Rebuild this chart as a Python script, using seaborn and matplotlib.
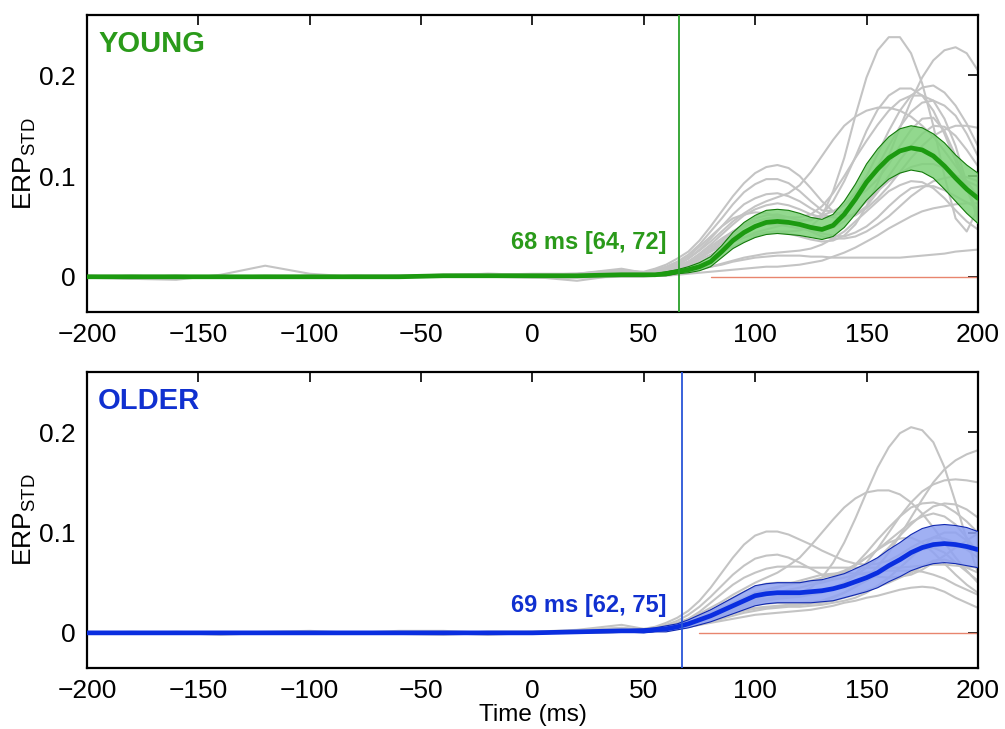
import numpy as np
import pandas as pd
import matplotlib
matplotlib.use("Agg")
import matplotlib.pyplot as plt
import seaborn as sns

# ---------------- data ----------------
time_ms = [-200, -180, -160, -140, -120, -100, -80, -60, -40, -20, 0, 20, 40,
           50, 55, 60, 65, 70, 75, 80, 85, 90, 95, 100, 105, 110, 115, 120, 125,
           130, 135, 140, 145, 150, 155, 160, 165, 170, 175, 180, 185, 190, 195, 200]

# YOUNG individual curves (ERP_STD)
young_s01 = [0.001, 0.000, -0.001, 0.000, 0.001, 0.000, 0.000, 0.001, 0.002, 0.003, 0.002, 0.002, 0.003,
             .004, .006, .008, .011, .015, .020, .025, .030, .035, .039, .042, .044, .045, .045, .046, .050,
             .060, .085, .118, .160, .198, .225, .238, .238, .222, .192, .150, .100, .058, .045, .068]
young_s02 = [0.000, -0.002, -0.003, 0.002, 0.011, 0.003, 0.000, 0.000, 0.001, 0.002, 0.001, 0.001, 0.002,
             .002, .003, .005, .007, .010, .015, .020, .025, .030, .035, .040, .044, .045, .043, .040, .037,
             .035, .036, .041, .052, .070, .093, .120, .148, .175, .198, .215, .225, .228, .222, .205]
young_s03 = [0.001, 0.001, 0.000, -0.001, 0.000, 0.001, 0.001, 0.000, 0.001, 0.003, 0.002, 0.003, 0.006,
             .005, .008, .012, .018, .025, .036, .050, .065, .080, .093, .103, .109, .111, .108, .100, .088,
             .075, .065, .060, .062, .070, .084, .100, .116, .130, .142, .150, .149, .140, .126, .110]
young_s04 = [-0.001, -0.002, 0.000, 0.000, -0.001, 0.000, 0.001, 0.001, 0.000, 0.002, 0.003, 0.003, 0.007,
             .004, .007, .010, .015, .022, .032, .045, .058, .072, .084, .092, .097, .097, .093, .085, .075,
             .066, .065, .071, .083, .100, .122, .145, .165, .180, .188, .190, .183, .170, .152, .130]
young_s05 = [0.000, 0.001, 0.000, 0.000, 0.000, 0.001, 0.000, 0.000, 0.001, 0.002, 0.002, 0.001, 0.004,
             .003, .005, .008, .012, .018, .026, .035, .045, .055, .063, .070, .075, .079, .083, .091, .104,
             .120, .136, .150, .159, .165, .168, .168, .165, .159, .150, .139, .125, .110, .095, .080]
young_s06 = [0.000, 0.000, 0.001, 0.000, -0.001, 0.000, 0.000, 0.001, 0.001, 0.001, 0.000, -0.004, 0.002,
             .002, .004, .006, .009, .014, .020, .028, .036, .045, .052, .058, .061, .062, .059, .056, .056,
             .062, .075, .095, .119, .145, .166, .180, .187, .187, .180, .165, .142, .115, .087, .060]
young_s07 = [0.001, 0.000, -0.001, -0.001, 0.000, 0.000, 0.001, 0.001, 0.002, 0.002, 0.001, 0.002, 0.005,
             .003, .005, .008, .012, .018, .027, .038, .050, .062, .072, .078, .082, .083, .080, .075, .068,
             .062, .059, .058, .061, .068, .078, .090, .104, .118, .130, .140, .146, .150, .150, .148]
young_s08 = [0.000, 0.000, 0.000, 0.001, 0.000, -0.001, 0.000, 0.000, 0.001, 0.001, 0.002, 0.002, 0.004,
             .002, .004, .006, .010, .015, .023, .032, .042, .052, .061, .067, .071, .073, .071, .067, .062,
             .059, .060, .066, .076, .091, .110, .130, .149, .164, .173, .175, .170, .160, .142, .120]
young_s09 = [0.000, 0.001, 0.001, 0.000, 0.000, 0.000, 0.000, 0.000, 0.000, 0.001, 0.001, 0.002, 0.003,
             .002, .003, .005, .008, .012, .018, .025, .033, .040, .046, .050, .052, .052, .050, .048, .046,
             .046, .049, .055, .064, .075, .085, .095, .103, .109, .112, .112, .108, .101, .095, .090]
young_s10 = [0.001, 0.000, 0.000, 0.000, 0.001, 0.001, 0.000, 0.000, 0.001, 0.002, 0.002, 0.002, 0.004,
             .003, .004, .006, .009, .012, .017, .022, .028, .034, .039, .044, .047, .050, .053, .055, .058,
             .061, .065, .071, .078, .086, .097, .112, .130, .146, .157, .158, .145, .120, .090, .063]
young_s11 = [0.000, 0.000, 0.000, 0.000, 0.000, 0.000, 0.000, 0.000, 0.000, 0.000, 0.000, 0.000, 0.001,
             .001, .002, .003, .004, .006, .008, .010, .012, .015, .017, .019, .020, .021, .021, .021, .020,
             .020, .019, .019, .019, .019, .019, .019, .019, .020, .021, .022, .023, .025, .026, .027]
young_s12 = [0.000, 0.000, 0.000, -0.001, 0.000, 0.000, 0.000, 0.000, 0.000, 0.001, 0.000, 0.000, 0.001,
             .001, .001, .002, .003, .005, .007, .010, .013, .016, .019, .021, .023, .024, .025, .026, .028,
             .032, .038, .045, .055, .065, .075, .085, .091, .095, .094, .088, .078, .066, .055, .047]
young_s13 = [0.000, 0.000, 0.000, 0.000, 0.000, 0.000, 0.000, 0.000, 0.000, 0.000, -0.001, -0.001, 0.000,
             .000, .001, .001, .002, .003, .004, .005, .006, .007, .008, .009, .010, .010, .011, .012, .014,
             .016, .020, .024, .029, .035, .041, .048, .054, .060, .065, .068, .070, .072, .073, .073]
young_s14 = [0.000, 0.000, 0.001, 0.000, 0.000, 0.000, 0.001, 0.001, 0.001, 0.002, 0.002, 0.003, 0.008,
             .004, .006, .009, .014, .020, .030, .040, .050, .058, .062, .064, .063, .060, .055, .050, .045,
             .040, .038, .038, .040, .045, .052, .060, .070, .080, .088, .095, .098, .100, .099, .095]
young_s15 = [0.000, 0.000, 0.000, 0.000, 0.000, 0.000, 0.000, 0.000, 0.001, 0.001, 0.001, 0.001, 0.003,
             .002, .003, .005, .008, .012, .019, .026, .034, .042, .049, .055, .058, .060, .059, .059, .062,
             .070, .083, .100, .118, .135, .151, .165, .175, .180, .180, .175, .157, .130, .093, .055]
young_s16 = [0.000, 0.000, 0.000, 0.000, 0.000, 0.000, 0.000, 0.000, 0.000, 0.001, 0.001, 0.002, 0.004,
             .003, .005, .007, .010, .015, .022, .030, .038, .045, .051, .055, .057, .058, .056, .052, .047,
             .043, .041, .040, .044, .050, .059, .070, .080, .088, .090, .090, .086, .080, .074, .068]

young_mean = [0.000, 0.000, 0.000, 0.000, 0.000, 0.000, 0.000, 0.000, 0.001, 0.001, 0.001, 0.001, 0.002,
              .002, .002, .003, .005, .007, .010, .015, .025, .036, .044, .050, .054, .055, .054, .052, .049,
              .047, .051, .062, .077, .094, .107, .118, .125, .128, .126, .120, .110, .098, .087, .078]
young_half = [0.001, 0.001, 0.001, 0.001, 0.001, 0.001, 0.001, 0.001, 0.001, 0.001, 0.001, 0.001, 0.001,
              .001, .001, .002, .002, .003, .004, .005, .006, .008, .010, .011, .012, .012, .012, .011, .010,
              .010, .011, .013, .015, .018, .020, .021, .022, .022, .022, .022, .023, .023, .024, .025]

# OLDER individual curves (ERP_STD)
older_s01 = [0.000, 0.000, 0.000, -0.001, 0.000, 0.001, 0.000, 0.000, 0.001, 0.000, 0.000, 0.001, 0.002,
             .002, .003, .005, .007, .010, .014, .018, .022, .025, .029, .032, .034, .036, .038, .040, .045,
             .055, .070, .090, .114, .140, .165, .185, .199, .205, .202, .190, .165, .130, .093, .060]
older_s02 = [0.000, 0.001, 0.000, 0.000, 0.000, 0.000, 0.000, 0.000, 0.000, 0.000, 0.000, 0.000, 0.001,
             .001, .002, .004, .006, .008, .011, .015, .019, .022, .025, .028, .029, .030, .030, .030, .031,
             .032, .035, .040, .046, .055, .066, .080, .097, .115, .133, .150, .163, .172, .178, .182]
older_s03 = [0.000, 0.000, 0.001, 0.000, -0.001, 0.000, 0.000, 0.002, 0.002, 0.000, 0.000, 0.001, 0.002,
             .002, .003, .004, .006, .009, .012, .016, .020, .024, .027, .030, .032, .034, .035, .036, .038,
             .040, .044, .050, .059, .070, .084, .100, .116, .130, .141, .148, .152, .153, .152, .150]
older_s04 = [0.001, 0.000, 0.000, 0.000, 0.000, 0.000, 0.000, 0.000, 0.000, 0.001, 0.001, 0.002, 0.005,
             .003, .005, .007, .010, .014, .019, .025, .031, .038, .044, .050, .055, .060, .067, .075, .087,
             .100, .113, .125, .134, .140, .142, .142, .138, .130, .119, .105, .090, .075, .062, .050]
older_s05 = [0.000, 0.000, 0.000, -0.002, 0.000, 0.000, 0.000, 0.000, 0.000, 0.001, 0.001, 0.003, 0.008,
             .004, .006, .010, .015, .022, .032, .045, .060, .075, .088, .097, .101, .101, .098, .093, .088,
             .082, .077, .072, .069, .068, .069, .072, .078, .085, .091, .095, .094, .090, .083, .075]
older_s06 = [0.000, 0.000, 0.000, 0.000, 0.000, 0.001, 0.000, -0.001, -0.002, 0.000, 0.001, 0.002, 0.005,
             .003, .005, .008, .012, .018, .026, .036, .047, .058, .067, .074, .077, .078, .075, .070, .064,
             .058, .057, .060, .068, .080, .093, .105, .116, .125, .129, .130, .127, .120, .111, .100]
older_s07 = [0.000, 0.000, 0.000, 0.000, 0.000, 0.000, 0.000, 0.000, 0.000, 0.000, 0.001, 0.001, 0.003,
             .002, .004, .006, .009, .014, .021, .030, .039, .048, .055, .060, .064, .066, .066, .066, .065,
             .065, .065, .065, .065, .065, .065, .065, .065, .066, .067, .068, .068, .067, .066, .065]
older_s08 = [0.000, 0.000, 0.000, 0.000, 0.001, 0.002, 0.000, 0.000, 0.000, -0.002, 0.000, 0.001, 0.002,
             .002, .003, .004, .006, .009, .013, .017, .021, .025, .029, .032, .034, .036, .037, .038, .040,
             .042, .045, .050, .057, .065, .074, .085, .097, .108, .118, .126, .129, .128, .123, .115]
older_s09 = [0.000, 0.000, 0.000, 0.000, 0.000, 0.000, 0.000, 0.000, 0.000, 0.000, 0.000, 0.001, 0.002,
             .002, .003, .005, .008, .011, .015, .020, .025, .030, .035, .040, .043, .046, .048, .050, .052,
             .055, .058, .062, .068, .075, .083, .092, .101, .110, .116, .119, .116, .108, .095, .080]
older_s10 = [0.000, 0.000, 0.000, 0.000, 0.000, 0.000, 0.000, 0.000, 0.000, 0.000, 0.000, 0.000, 0.001,
             .001, .002, .003, .004, .006, .008, .010, .012, .014, .016, .018, .019, .020, .021, .022, .023,
             .025, .027, .030, .032, .035, .037, .040, .043, .045, .046, .045, .041, .035, .030, .025]
older_s11 = [0.000, 0.000, 0.000, 0.000, 0.000, 0.000, 0.000, 0.000, 0.000, 0.000, 0.000, 0.000, 0.001,
             .001, .002, .003, .005, .007, .010, .013, .016, .019, .022, .024, .025, .026, .027, .028, .030,
             .032, .036, .040, .046, .052, .058, .065, .072, .078, .083, .085, .080, .070, .061, .052]
older_s12 = [0.000, 0.000, 0.000, 0.000, 0.000, 0.000, 0.000, 0.000, 0.000, 0.000, 0.000, 0.001, 0.002,
             .002, .003, .004, .006, .009, .013, .017, .021, .026, .030, .034, .037, .040, .043, .045, .048,
             .050, .053, .055, .058, .060, .061, .062, .062, .062, .061, .058, .054, .048, .043, .038]
older_s13 = [0.000, 0.000, 0.000, 0.000, 0.000, 0.000, 0.000, 0.000, 0.000, 0.000, 0.000, 0.001, 0.002,
             .002, .003, .005, .007, .010, .014, .018, .023, .028, .033, .038, .042, .045, .049, .052, .055,
             .058, .059, .060, .059, .058, .056, .055, .056, .058, .063, .070, .077, .085, .092, .099]
older_s14 = [0.000, 0.000, 0.000, 0.000, 0.000, 0.000, 0.000, 0.000, 0.000, 0.000, 0.000, 0.000, 0.001,
             .001, .002, .003, .004, .006, .008, .011, .014, .017, .020, .022, .024, .025, .026, .026, .027,
             .028, .030, .032, .035, .040, .047, .055, .065, .075, .086, .095, .100, .100, .092, .079]
older_s15 = [0.000, 0.000, 0.000, 0.000, 0.000, 0.000, 0.000, 0.000, 0.000, 0.001, 0.001, 0.002, 0.004,
             .003, .004, .006, .009, .012, .017, .022, .028, .035, .041, .046, .049, .050, .050, .050, .051,
             .052, .055, .060, .067, .075, .083, .090, .094, .095, .090, .080, .069, .058, .048, .040]
older_s16 = [0.000, 0.000, 0.000, 0.000, 0.000, 0.000, 0.000, 0.000, 0.000, 0.000, 0.000, 0.000, 0.001,
             .002, .003, .004, .006, .008, .011, .014, .017, .020, .023, .025, .026, .027, .028, .028, .029,
             .030, .032, .035, .038, .042, .046, .050, .055, .060, .066, .072, .073, .070, .065, .060]

older_mean = [0.000, 0.000, 0.000, 0.000, 0.000, 0.000, 0.000, 0.000, 0.000, 0.000, 0.000, 0.001, 0.002,
              .002, .003, .004, .006, .009, .013, .017, .022, .027, .032, .037, .039, .040, .040, .040, .041,
              .042, .044, .047, .051, .055, .060, .067, .073, .080, .085, .088, .089, .088, .086, .083]
older_half = [0.001, 0.001, 0.001, 0.001, 0.001, 0.001, 0.001, 0.001, 0.001, 0.001, 0.001, 0.001, 0.001,
              .002, .002, .003, .003, .004, .005, .006, .007, .008, .009, .010, .010, .010, .010, .010, .011,
              .011, .012, .012, .013, .014, .015, .016, .017, .018, .019, .019, .019, .019, .019, .018]

young_curves = [young_s01, young_s02, young_s03, young_s04, young_s05, young_s06, young_s07, young_s08,
                young_s09, young_s10, young_s11, young_s12, young_s13, young_s14, young_s15, young_s16]
older_curves = [older_s01, older_s02, older_s03, older_s04, older_s05, older_s06, older_s07, older_s08,
                older_s09, older_s10, older_s11, older_s12, older_s13, older_s14, older_s15, older_s16]

group_names = ["YOUNG", "OLDER"]
onset_labels = ["68 ms [64, 72]", "69 ms [62, 75]"]
onset_line_ms = [66, 67]
ref_line_start_ms = [80, 75]
x_ticks = [-200, -150, -100, -50, 0, 50, 100, 150, 200]
y_ticks = [0, 0.1, 0.2]
y_tick_labels = ["0", "0.1", "0.2"]

# ---------------- style ----------------
sns.set_style("white")
plt.rcParams['font.family'] = ['Liberation Sans', 'DejaVu Sans']
plt.rcParams['mathtext.default'] = 'regular'
for key in ["text.color", "axes.labelcolor", "xtick.color", "ytick.color"]:
    plt.rcParams[key] = "black"

colors = {
    "YOUNG": dict(main="#1c9a10", fill="#7fd27a", edge="#137a0a", vline="#2aa02a", text="#2a9a1a"),
    "OLDER": dict(main="#0a2ee0", fill="#8fa2f2", edge="#1028b0", vline="#2a55d8", text="#1030d0"),
}

fig = plt.figure(figsize=(10.05, 7.29), dpi=100)
ax_top = fig.add_axes([0.0866, 0.572, 0.8864, 0.4074])
ax_bot = fig.add_axes([0.0866, 0.0837, 0.8864, 0.406])
axes = [ax_top, ax_bot]

all_curves = [young_curves, older_curves]
means = [young_mean, older_mean]
halves = [young_half, older_half]
label_y = [0.028, 0.021]

for i, ax in enumerate(axes):
    g = group_names[i]
    c = colors[g]
    rows = []
    for k, curve in enumerate(all_curves[i]):
        for t, v in zip(time_ms, curve):
            rows.append((t, v, k))
    df = pd.DataFrame(rows, columns=["time", "erp", "subject"])
    sns.lineplot(data=df, x="time", y="erp", units="subject", estimator=None,
                 color="#c4c4c4", lw=1.5, ax=ax, zorder=2)

    ax.plot([ref_line_start_ms[i], 200], [0, 0], color="#e8856e", lw=1.0, zorder=1)

    m = np.array(means[i])
    h = np.array(halves[i])
    ax.fill_between(time_ms, m - h, m + h, facecolor=c["fill"], edgecolor="none",
                    alpha=0.85, zorder=3)
    ax.plot(time_ms, m + h, color=c["edge"], lw=0.8, zorder=4)
    ax.plot(time_ms, m - h, color=c["edge"], lw=0.8, zorder=4)
    sns.lineplot(x=time_ms, y=means[i], color=c["main"], lw=3.4, ax=ax, zorder=5)

    ax.axvline(onset_line_ms[i], color=c["vline"], lw=1.3, zorder=6)

    ax.text(-195, 0.231, g, color=c["text"], fontsize=21, fontweight="bold",
            ha="left", va="center")
    ax.text(60, label_y[i], onset_labels[i], color=c["text"], fontsize=17,
            fontweight="bold", ha="right", va="baseline")

    ax.set_xlim(-200, 200)
    ax.set_ylim(-0.035, 0.26)
    ax.set_xticks(x_ticks)
    ax.set_yticks(y_ticks)
    ax.set_yticklabels(y_tick_labels)
    ax.tick_params(axis="both", which="both", direction="in", length=7, width=1.2,
                   top=True, right=True, labelsize=19, pad=8, colors="black")
    for s in ax.spines.values():
        s.set_visible(True)
        s.set_color("black")
        s.set_linewidth(1.6)
    ax.set_ylabel(r"ERP$_{STD}$", fontsize=19, labelpad=1)
    ax.set_xlabel("")

ax_bot.set_xlabel("Time (ms)", fontsize=17.5, labelpad=1)

fig.savefig("out.png", dpi=100)
